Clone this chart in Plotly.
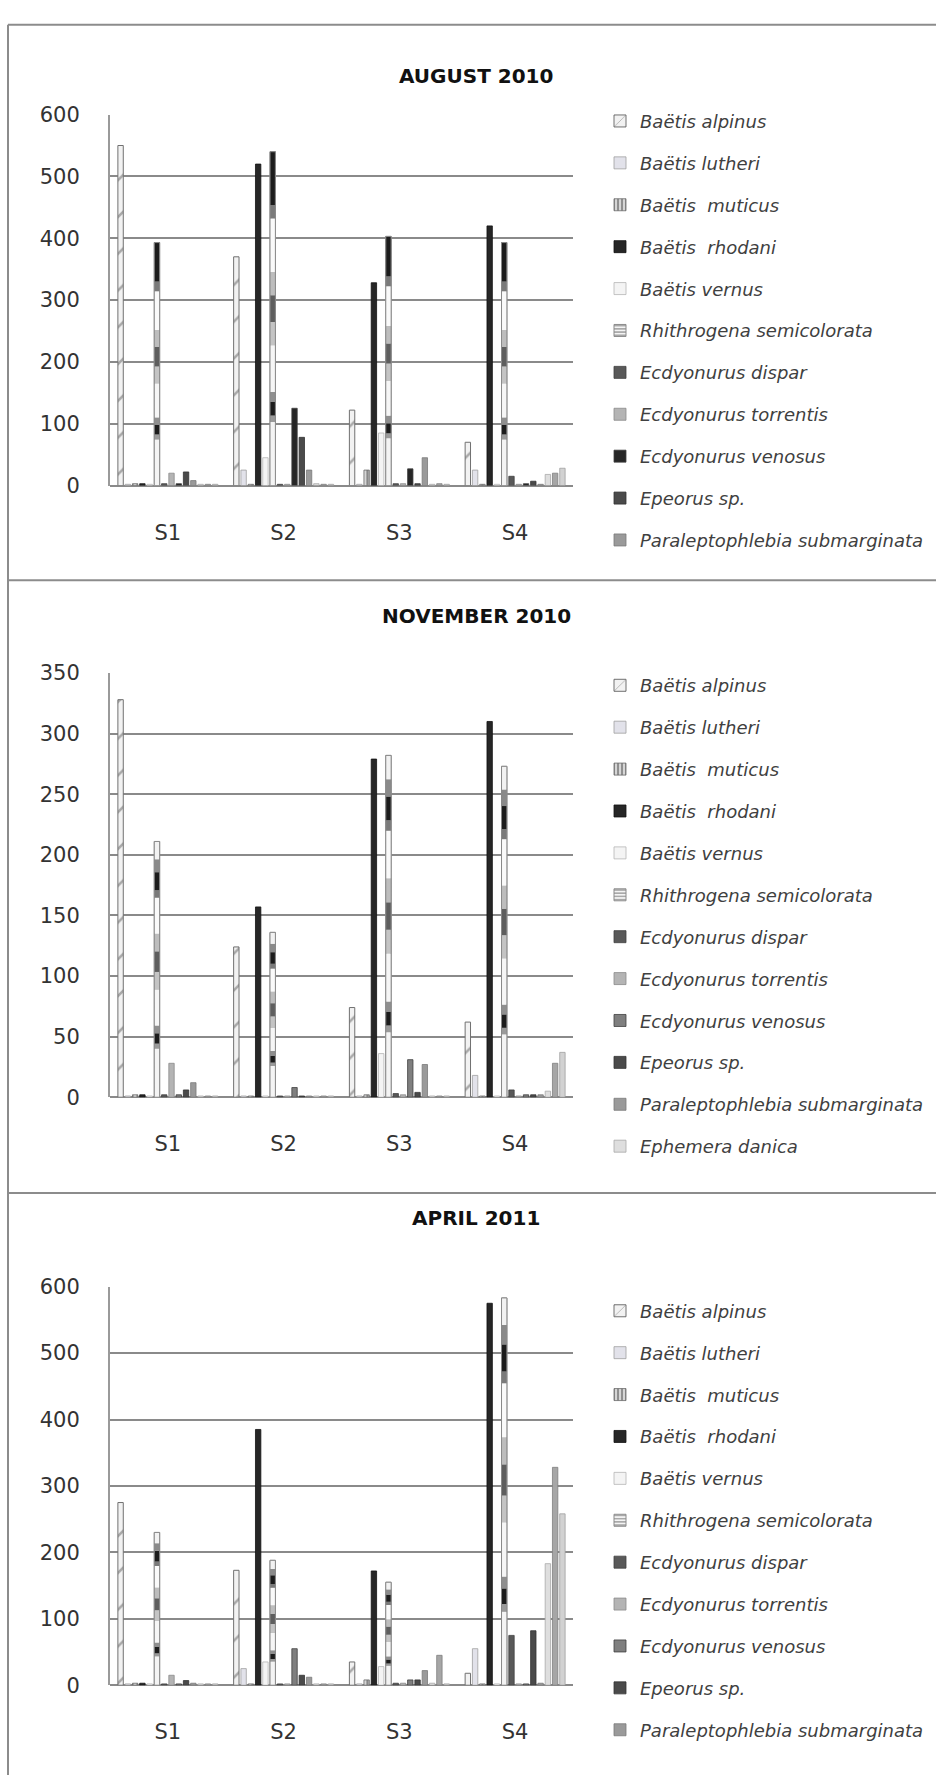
import plotly.graph_objects as go

# ---------------- data ----------------
sites = ["S1", "S2", "S3", "S4"]

species = [
    "Baëtis alpinus", "Baëtis lutheri", "Baëtis\u00a0 muticus", "Baëtis\u00a0 rhodani",
    "Baëtis vernus", "Rhithrogena semicolorata", "Ecdyonurus dispar",
    "Ecdyonurus torrentis", "Ecdyonurus venosus", "Epeorus sp.",
    "Paraleptophlebia submarginata", "Ephemera danica", "Taxon 13", "Taxon 14",
]

# August 2010 (per species: S1, S2, S3, S4)
aug_alpinus = [550, 370, 122, 70]
aug_lutheri = [2, 25, 2, 25]
aug_muticus = [3, 2, 25, 2]
aug_rhodani = [3, 520, 328, 420]
aug_vernus = [2, 45, 85, 2]
aug_rhithrogena = [393, 540, 403, 393]
aug_dispar = [3, 2, 3, 15]
aug_torrentis = [20, 2, 3, 2]
aug_venosus = [3, 125, 27, 3]
aug_epeorus = [22, 78, 3, 7]
aug_paraleptophlebia = [8, 25, 45, 2]
aug_ephemera = [2, 3, 2, 18]
aug_taxon13 = [2, 2, 3, 20]
aug_taxon14 = [2, 2, 2, 28]

# November 2010
nov_alpinus = [328, 124, 74, 62]
nov_lutheri = [1, 1, 1, 18]
nov_muticus = [2, 1, 2, 1]
nov_rhodani = [2, 157, 279, 310]
nov_vernus = [1, 1, 36, 1]
nov_rhithrogena = [211, 136, 282, 273]
nov_dispar = [2, 1, 3, 6]
nov_torrentis = [28, 1, 2, 1]
nov_venosus = [2, 8, 31, 2]
nov_epeorus = [6, 1, 4, 2]
nov_paraleptophlebia = [12, 1, 27, 2]
nov_ephemera = [1, 1, 1, 5]
nov_taxon13 = [1, 1, 1, 28]
nov_taxon14 = [1, 1, 1, 37]

# April 2011
apr_alpinus = [275, 173, 35, 18]
apr_lutheri = [2, 25, 2, 55]
apr_muticus = [3, 2, 8, 2]
apr_rhodani = [3, 385, 172, 575]
apr_vernus = [2, 35, 28, 2]
apr_rhithrogena = [230, 188, 155, 583]
apr_dispar = [2, 2, 3, 75]
apr_torrentis = [15, 2, 3, 2]
apr_venosus = [2, 55, 8, 2]
apr_epeorus = [7, 15, 8, 82]
apr_paraleptophlebia = [3, 12, 22, 3]
apr_ephemera = [2, 2, 3, 183]
apr_taxon13 = [2, 2, 45, 328]
apr_taxon14 = [2, 2, 2, 258]

aug = [aug_alpinus, aug_lutheri, aug_muticus, aug_rhodani, aug_vernus, aug_rhithrogena,
       aug_dispar, aug_torrentis, aug_venosus, aug_epeorus, aug_paraleptophlebia,
       aug_ephemera, aug_taxon13, aug_taxon14]
nov = [nov_alpinus, nov_lutheri, nov_muticus, nov_rhodani, nov_vernus, nov_rhithrogena,
       nov_dispar, nov_torrentis, nov_venosus, nov_epeorus, nov_paraleptophlebia,
       nov_ephemera, nov_taxon13, nov_taxon14]
apr = [apr_alpinus, apr_lutheri, apr_muticus, apr_rhodani, apr_vernus, apr_rhithrogena,
       apr_dispar, apr_torrentis, apr_venosus, apr_epeorus, apr_paraleptophlebia,
       apr_ephemera, apr_taxon13, apr_taxon14]

y_ticks_600 = [0, 100, 200, 300, 400, 500, 600]
y_ticks_350 = [0, 50, 100, 150, 200, 250, 300, 350]

# ---------------- styles ----------------
W, H = 936, 1787
FONT = "'DejaVu Sans', Verdana, sans-serif"
GRID = "#8a8a8a"
RHITHRO = 5

# shading bands (fraction of bar height) imitating the cylinder gradient fill
bands_dark_top = [(0.00, 0.19, "#f4f4f4"), (0.19, 0.21, "#9a9a9a"), (0.21, 0.25, "#1c1c1c"),
                  (0.25, 0.28, "#8f8f8f"), (0.28, 0.42, "#f6f6f6"), (0.42, 0.49, "#c4c4c4"),
                  (0.49, 0.57, "#5e5e5e"), (0.57, 0.64, "#bdbdbd"), (0.64, 0.80, "#fafafa"),
                  (0.80, 0.84, "#7a7a7a"), (0.84, 1.00, "#1c1c1c")]
bands_light_top = [(0.00, 0.19, "#f4f4f4"), (0.19, 0.21, "#9a9a9a"), (0.21, 0.25, "#1c1c1c"),
                   (0.25, 0.28, "#8f8f8f"), (0.28, 0.42, "#f6f6f6"), (0.42, 0.49, "#c4c4c4"),
                   (0.49, 0.57, "#5e5e5e"), (0.57, 0.64, "#bdbdbd"), (0.64, 0.78, "#fafafa"),
                   (0.78, 0.81, "#7a7a7a"), (0.81, 0.88, "#1c1c1c"), (0.88, 0.93, "#8a8a8a"),
                   (0.93, 1.00, "#f2f2f2")]


def style(i, venosus_color):
    s = dict(color="#bfbfbf", line=dict(color="#8a8a8a", width=0.8))
    if i == 0:
        s = dict(color="#f2f2f2", line=dict(color="#707070", width=1),
                 pattern=dict(shape="/", fgcolor="#606060", bgcolor="#f2f2f2", size=26, solidity=0.1))
    elif i == 1:
        s = dict(color="#e2e2ea", line=dict(color="#a0a0a0", width=0.8))
    elif i == 2:
        s = dict(color="#bdbdbd", line=dict(color="#6a6a6a", width=0.8),
                 pattern=dict(shape="|", fgcolor="#3a3a3a", bgcolor="#d6d6d6", size=5, solidity=0.45))
    elif i == 3:
        s = dict(color="#262626", line=dict(color="#111111", width=0.8))
    elif i == 4:
        s = dict(color="#f4f4f4", line=dict(color="#b5b5b5", width=0.8))
    elif i == 5:
        s = dict(color="#f4f4f4", line=dict(color="#8a8a8a", width=1),
                 pattern=dict(shape="-", fgcolor="#3a3a3a", bgcolor="#f4f4f4", size=4, solidity=0.4))
    elif i == 6:
        s = dict(color="#595959", line=dict(color="#404040", width=0.8))
    elif i == 7:
        s = dict(color="#b4b4b4", line=dict(color="#8a8a8a", width=0.8))
    elif i == 8:
        s = dict(color=venosus_color, line=dict(color="#404040", width=0.8))
    elif i == 9:
        s = dict(color="#4a4a4a", line=dict(color="#333333", width=0.8))
    elif i == 10:
        s = dict(color="#9a9a9a", line=dict(color="#7a7a7a", width=0.8))
    elif i == 11:
        s = dict(color="#dedede", line=dict(color="#a8a8a8", width=0.8))
    elif i == 12:
        s = dict(color="#a6a6a6", line=dict(color="#7f7f7f", width=0.8))
    elif i == 13:
        s = dict(color="#d2d2d2", line=dict(color="#a0a0a0", width=0.8))
    return s


def py(pix):
    return 1 - pix / H


def px(pix):
    return pix / W


panels = [
    dict(title="AUGUST 2010", data=aug, nleg=11, top=104, bottom=480, ymax=600,
         ticks=y_ticks_600, venosus="#262626", title_y=51, legend_top=92, bands=bands_dark_top),
    dict(title="NOVEMBER 2010", data=nov, nleg=12, top=670, bottom=1100, ymax=350,
         ticks=y_ticks_350, venosus="#7f7f7f", title_y=612, legend_top=664, bands=bands_light_top),
    dict(title="APRIL 2011", data=apr, nleg=11, top=1292, bottom=1696, ymax=600,
         ticks=y_ticks_600, venosus="#7f7f7f", title_y=1237, legend_top=1298, bands=bands_light_top),
]

fig = go.Figure()
layout = dict(
    width=W, height=H, margin=dict(l=0, r=0, t=0, b=0),
    paper_bgcolor="white", plot_bgcolor="white",
    barmode="group", bargap=0.12, bargroupgap=0.26,
    font=dict(family=FONT, color="#333333"),
    annotations=[], shapes=[],
)

for k, p in enumerate(panels):
    sfx = "" if k == 0 else str(k + 1)
    legname = "legend" if k == 0 else f"legend{k + 1}"
    xa, ya = "x" + sfx, "y" + sfx
    for i, name in enumerate(species):
        fig.add_trace(go.Bar(
            x=sites, y=p["data"][i], name=name, xaxis=xa, yaxis=ya,
            marker=style(i, p["venosus"]), offsetgroup=f"s{i}",
            legend=legname, legendgroup=f"p{k}s{i}",
            showlegend=i < p["nleg"],
        ))
        if i == RHITHRO:
            vals = p["data"][i]
            for f0, f1, col in p["bands"]:
                fig.add_trace(go.Bar(
                    x=sites, y=[(f1 - f0) * v for v in vals], base=[f0 * v for v in vals],
                    xaxis=xa, yaxis=ya, offsetgroup=f"s{i}", name=name,
                    marker=dict(color=col, line=dict(width=0)),
                    legend=legname, legendgroup=f"p{k}s{i}", showlegend=False,
                    hoverinfo="skip",
                ))
            fig.add_trace(go.Bar(
                x=sites, y=vals, xaxis=xa, yaxis=ya, offsetgroup=f"s{i}", name=name,
                marker=dict(color="rgba(0,0,0,0)", line=dict(color="#8a8a8a", width=1)),
                legend=legname, legendgroup=f"p{k}s{i}", showlegend=False,
                hoverinfo="skip",
            ))
    layout["xaxis" + sfx] = dict(
        domain=[px(110), px(573)], anchor=ya,
        showgrid=False, zeroline=False, showline=False,
        ticks="", tickfont=dict(size=21, color="#333333"),
        ticklabelstandoff=32, fixedrange=True,
    )
    layout["yaxis" + sfx] = dict(
        domain=[py(p["bottom"]), py(p["top"])], anchor=xa,
        range=[0, p["ymax"]], tickvals=p["ticks"],
        showgrid=True, gridcolor=GRID, gridwidth=2,
        zeroline=True, zerolinecolor=GRID, zerolinewidth=2,
        showline=True, linecolor="#9a9a9a", linewidth=2,
        ticks="", tickfont=dict(size=21, color="#333333"),
        ticklabelstandoff=24, fixedrange=True,
    )
    layout[legname] = dict(
        x=px(600), xanchor="left", y=py(p["legend_top"]), yanchor="top",
        bgcolor="rgba(0,0,0,0)", tracegroupgap=15.5, traceorder="grouped",
        font=dict(size=18, color="#404040", style="italic", family=FONT),
    )
    layout["annotations"].append(dict(
        text=f"<b>{p['title']}</b>", x=px(476), y=py(p["title_y"]),
        xref="paper", yref="paper", showarrow=False,
        font=dict(size=20, color="#111111", family=FONT),
    ))

frame = "#8c8c8c"
layout["shapes"] += [
    dict(type="line", xref="paper", yref="paper", x0=px(8), x1=1, y0=py(13), y1=py(13),
         line=dict(color=frame, width=2)),
    dict(type="line", xref="paper", yref="paper", x0=px(8), x1=px(8), y0=py(13), y1=0,
         line=dict(color=frame, width=2)),
    dict(type="line", xref="paper", yref="paper", x0=px(8), x1=1, y0=py(576), y1=py(576),
         line=dict(color=frame, width=2)),
    dict(type="line", xref="paper", yref="paper", x0=px(8), x1=1, y0=py(1197), y1=py(1197),
         line=dict(color=frame, width=2)),
]

fig.update_layout(**layout)
fig.write_html("out.html", config={"displayModeBar": False},
               post_script="document.body.style.margin='0';document.body.style.overflow='hidden';")
